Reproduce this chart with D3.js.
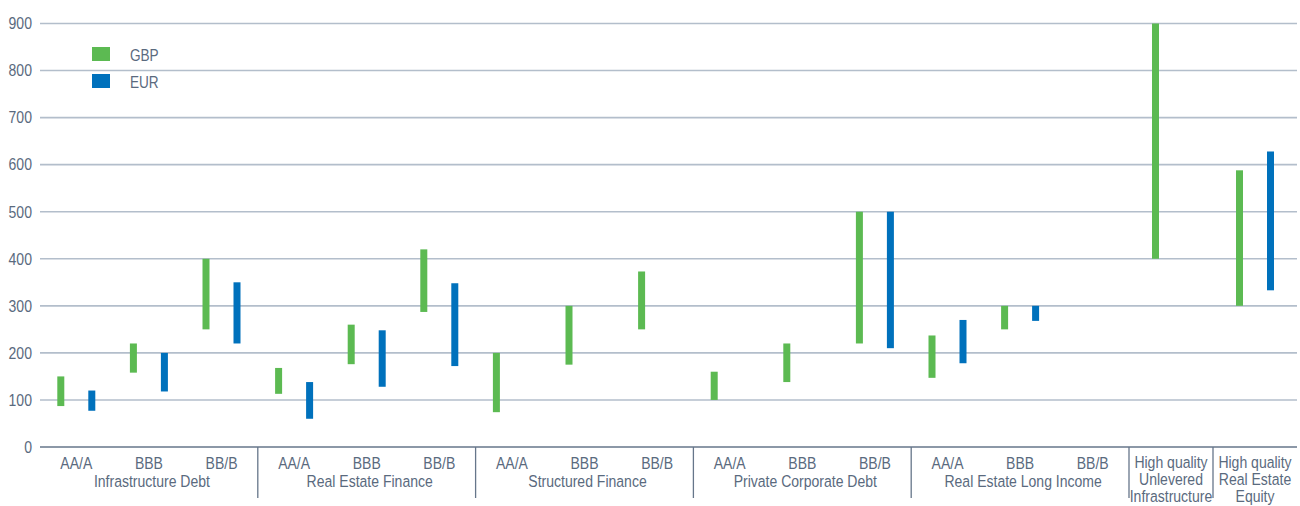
<!DOCTYPE html>
<html>
<head>
<meta charset="utf-8">
<script src="https://cdn.jsdelivr.net/npm/d3@7"></script>
<style>
  body { margin: 0; background: #fff; }
  text { font-family: "Liberation Sans", Arial, sans-serif; fill: #5a6a7e; }
</style>
</head>
<body>
<svg id="chart" width="1300" height="506"></svg>
<script>
// Asset classes split by rating band, plus two stand-alone equity-like classes
const groups = ["Infrastructure Debt", "Real Estate Finance", "Structured Finance", "Private Corporate Debt", "Real Estate Long Income"];
const ratings = ["AA/A", "BBB", "BB/B"];
const standalone = [
  ["High quality", "Unlevered", "Infrastructure"],
  ["High quality", "Real Estate", "Equity"]
];
const series = ["GBP", "EUR"];
const yTicks = [0, 100, 200, 300, 400, 500, 600, 700, 800, 900];

// Spread ranges (bps) per slot: 15 rated slots (group x rating), then the two stand-alone classes.
// null = no range shown for that currency.
const gbpLow  = [87, 158, 250,  113, 176, 287,  74, 175, 250,  100, 138, 220,  147, 250, null,  400, 300];
const gbpHigh = [150, 220, 400, 168, 260, 420,  200, 300, 373, 160, 220, 500,  237, 300, null,  900, 588];
const eurLow  = [77, 118, 220,  60, 128, 172,   null, null, null, null, null, 210, 178, 268, null, null, 333];
const eurHigh = [120, 200, 350, 138, 248, 348,  null, null, null, null, null, 500, 270, 300, null, null, 628];

const colors = { GBP: "#5cba52", EUR: "#0071bc" };
const fontSize = 16.5;
const squeeze = 0.85; // labels are set in a condensed width

const svg = d3.select("#chart");
const plotLeft = 40, plotRight = 1297, plotTop = 23.5, plotBottom = 447;
const ratedEnd = 1129;

const y = d3.scaleLinear().domain([0, 900]).range([plotBottom, plotTop]);

const ratedSlots = d3.range(groups.length * ratings.length);
const soloSlots = [ratedSlots.length, ratedSlots.length + 1];
const xRated = d3.scaleBand().domain(ratedSlots).range([plotLeft, ratedEnd]);
const xSolo = d3.scaleBand().domain(soloSlots).range([ratedEnd, plotRight]);
const slotStart = i => i < ratedSlots.length ? xRated(i) : xSolo(i);
const slotWidth = i => i < ratedSlots.length ? xRated.bandwidth() : xSolo.bandwidth();
const slotCenter = i => slotStart(i) + slotWidth(i) / 2;

// currency offset inside a slot
const xInner = d3.scaleBand().domain(series).range([-31, 31]);
const barW = 7;

// condensed text helper: lines is an array, drawn with the given line step
function label(parent, x, yBase, lines, anchor, step, size) {
  const g = parent.append("g").attr("transform", `translate(${x},${yBase}) scale(${squeeze},1)`);
  const t = g.append("text").attr("text-anchor", anchor).attr("font-size", size || fontSize);
  [].concat(lines).forEach((line, i) => {
    t.append("tspan").attr("x", 0).attr("y", i * (step || 0)).text(line);
  });
  return g;
}

// gridlines
svg.append("g")
  .selectAll("line")
  .data(yTicks.filter(t => t > 0))
  .join("line")
  .attr("x1", plotLeft).attr("x2", plotRight)
  .attr("y1", d => y(d)).attr("y2", d => y(d))
  .attr("stroke", "#b3becb").attr("stroke-width", 1.6);

// y axis labels
const yAxis = d3.axisLeft(y).tickValues(yTicks).tickSize(0).tickPadding(9.5);
const yg = svg.append("g").attr("transform", `translate(${plotLeft},0)`).call(yAxis);
yg.select(".domain").remove();
yg.attr("font-family", null).attr("font-size", null);
yg.selectAll("text")
  .attr("font-size", fontSize)
  .attr("fill", "#5a6a7e")
  .attr("transform", `scale(${squeeze},1)`);

// baseline
svg.append("line")
  .attr("x1", plotLeft).attr("x2", plotRight)
  .attr("y1", y(0)).attr("y2", y(0))
  .attr("stroke", "#66768a").attr("stroke-width", 1.6);

// range bars
const bars = [];
ratedSlots.concat(soloSlots).forEach(i => {
  if (gbpLow[i] != null) bars.push({ slot: i, cur: "GBP", lo: gbpLow[i], hi: gbpHigh[i] });
  if (eurLow[i] != null) bars.push({ slot: i, cur: "EUR", lo: eurLow[i], hi: eurHigh[i] });
});
svg.append("g")
  .selectAll("rect")
  .data(bars)
  .join("rect")
  .attr("x", d => slotCenter(d.slot) + xInner(d.cur) + xInner.bandwidth() / 2 - barW / 2)
  .attr("width", barW)
  .attr("y", d => y(d.hi))
  .attr("height", d => y(d.lo) - y(d.hi))
  .attr("fill", d => colors[d.cur]);

// category dividers below the axis
const dividers = groups.map((g, gi) => (gi + 1) * ratings.length).concat([soloSlots[1]]);
svg.append("g")
  .selectAll("line")
  .data(dividers)
  .join("line")
  .attr("x1", d => slotStart(d)).attr("x2", d => slotStart(d))
  .attr("y1", y(0)).attr("y2", 498)
  .attr("stroke", "#66768a").attr("stroke-width", 1.3);

// rating labels
const labels = svg.append("g");
ratedSlots.forEach(s => label(labels, slotCenter(s), 469, ratings[s % ratings.length], "middle"));

// group labels
groups.forEach((g, gi) => {
  const x0 = slotStart(gi * 3), x1 = slotStart(gi * 3 + 2) + slotWidth(gi * 3 + 2);
  label(labels, (x0 + x1) / 2 + 3, 487, g, "middle");
});

// stand-alone labels (three lines each)
soloSlots.forEach((s, k) => label(labels, slotCenter(s), 468, standalone[k], "middle", 17));

// legend
const lg = svg.append("g").attr("transform", "translate(92,47)");
series.forEach((s, i) => {
  lg.append("rect").attr("x", 0).attr("y", i * 27).attr("width", 18).attr("height", 14).attr("fill", colors[s]);
  label(lg, 38, i * 27 + 13.5, s, "start", 0, 16);
});
</script>
</body>
</html>
